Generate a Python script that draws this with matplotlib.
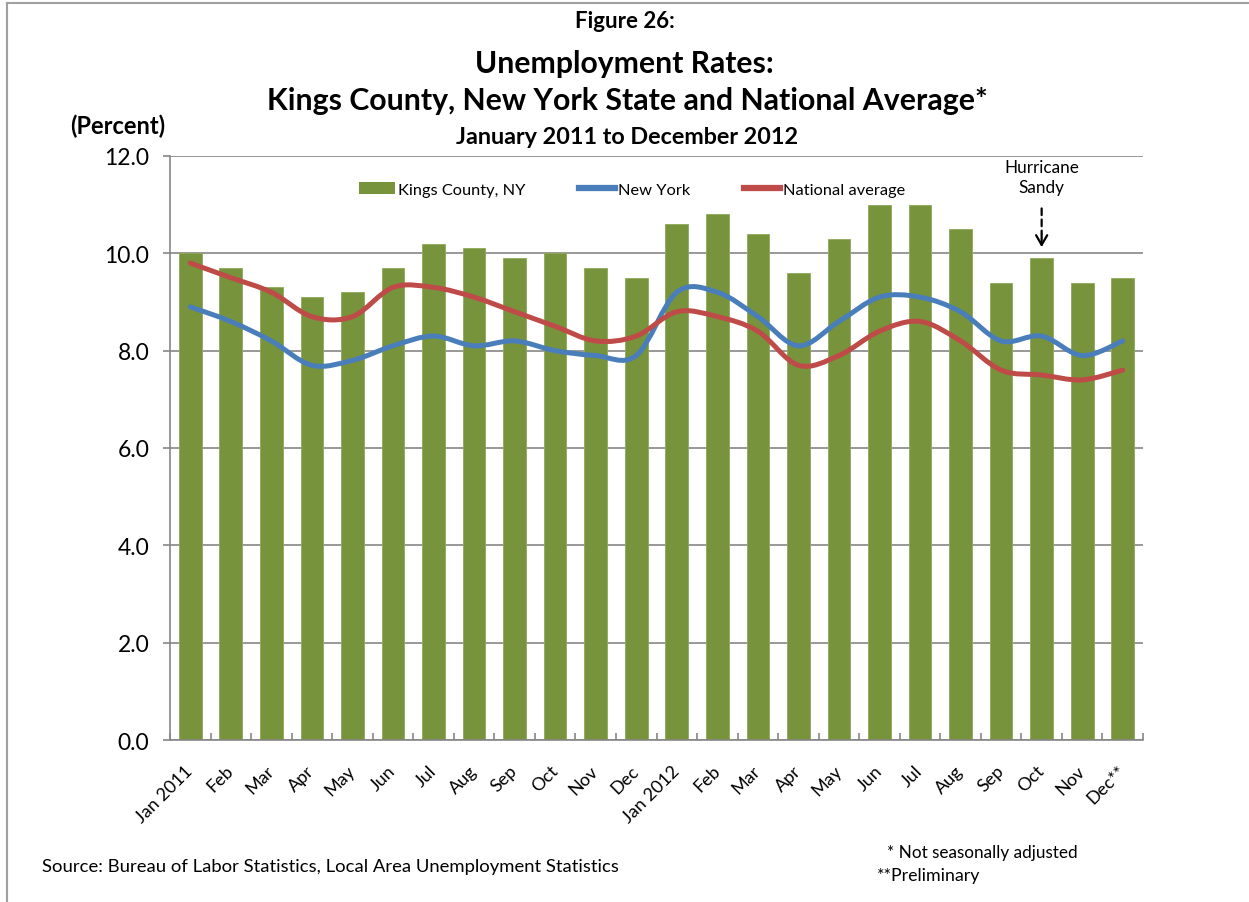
import matplotlib
matplotlib.use("Agg")
from matplotlib import pyplot as plt
from matplotlib.path import Path
from matplotlib.patches import PathPatch, Patch
from matplotlib.lines import Line2D
import numpy as np

plt.rcParams['font.family'] = ['Lato', 'DejaVu Sans']

months = ['Jan 2011', 'Feb', 'Mar', 'Apr', 'May', 'Jun', 'Jul', 'Aug', 'Sep', 'Oct', 'Nov', 'Dec',
          'Jan 2012', 'Feb', 'Mar', 'Apr', 'May', 'Jun', 'Jul', 'Aug', 'Sep', 'Oct', 'Nov', 'Dec**']
kings = [10.0, 9.7, 9.3, 9.1, 9.2, 9.7, 10.2, 10.1, 9.9, 10.0, 9.7, 9.5,
         10.6, 10.8, 10.4, 9.6, 10.3, 11.0, 11.0, 10.5, 9.4, 9.9, 9.4, 9.5]
new_york = [8.9, 8.6, 8.2, 7.7, 7.8, 8.1, 8.3, 8.1, 8.2, 8.0, 7.9, 7.9,
            9.2, 9.2, 8.7, 8.1, 8.6, 9.1, 9.1, 8.8, 8.2, 8.3, 7.9, 8.2]
national = [9.8, 9.5, 9.2, 8.7, 8.7, 9.3, 9.3, 9.1, 8.8, 8.5, 8.2, 8.3,
            8.8, 8.7, 8.4, 7.7, 7.9, 8.4, 8.6, 8.2, 7.6, 7.5, 7.4, 7.6]
sandy_month = 21

GREEN = '#77933C'
BLUE = '#4A7EBB'
RED = '#BE4B48'
GRID = '#868686'


def smooth_path(xs, ys):
    # excel-like smoothed line: catmull-rom converted to cubic bezier
    pts = np.column_stack([xs, ys]).astype(float)
    n = len(pts)
    verts = [pts[0]]
    codes = [Path.MOVETO]
    for i in range(n - 1):
        p0 = pts[i - 1] if i > 0 else pts[i]
        p1 = pts[i]
        p2 = pts[i + 1]
        p3 = pts[i + 2] if i + 2 < n else pts[i + 1]
        verts += [p1 + (p2 - p0) / 6, p2 - (p3 - p1) / 6, p2]
        codes += [Path.CURVE4] * 3
    return Path(verts, codes)


fig = plt.figure(figsize=(12.49, 9.03), dpi=100)
ax = fig.add_axes([170 / 1249, 1 - 741 / 903, 973 / 1249, 584 / 903])

x = np.arange(len(months))
ax.bar(x, kings, width=0.56, color=GREEN, edgecolor='#8DAA58', linewidth=0.6, zorder=2)

for series, col in [(new_york, BLUE), (national, RED)]:
    ax.add_patch(PathPatch(smooth_path(x, series), fill=False, edgecolor=col, lw=3.6,
                           capstyle='round', joinstyle='round', zorder=3))

ax.set_xlim(-0.5, len(months) - 0.5)
ax.set_ylim(0, 12)
ax.set_yticks(np.arange(0, 12.1, 2))
ax.set_yticklabels(['%.1f' % v for v in np.arange(0, 12.1, 2)], fontsize=16.5)
ax.yaxis.grid(True, color=GRID, lw=1.2, zorder=0)
ax.set_axisbelow(True)

ax.set_xticks(x)
ax.set_xticklabels(months, rotation=45, ha='right', va='center', rotation_mode='anchor', fontsize=13)
ax.set_xticks(np.arange(-0.5, len(months), 1), minor=True)
ax.tick_params(axis='x', which='major', length=0, pad=20)
ax.tick_params(axis='x', which='minor', direction='in', length=5, color=GRID, width=1.2)
ax.tick_params(axis='y', direction='out', length=5, color=GRID, width=1.2, pad=10)

for s in ['top', 'right']:
    ax.spines[s].set_visible(False)
for s in ['left', 'bottom']:
    ax.spines[s].set_color(GRID)
    ax.spines[s].set_linewidth(1.2)

handles = [Patch(facecolor=GREEN, edgecolor='none'),
           Line2D([], [], color=BLUE, lw=4.5),
           Line2D([], [], color=RED, lw=4.5)]
ax.legend(handles, ['Kings County, NY', 'New York', 'National average'], loc='center',
          bbox_to_anchor=(0.475, 0.943), ncol=3, frameon=False, fontsize=11.8,
          handlelength=2.2, handleheight=0.8, handletextpad=0.15, columnspacing=3.3)

# hurricane sandy marker
ax.text(sandy_month, 11.57, 'Hurricane\nSandy', ha='center', va='center', fontsize=12.3, linespacing=1.3)
ax.annotate('', xy=(sandy_month, 10.35), xytext=(sandy_month, 10.98),
            arrowprops=dict(arrowstyle='-', ls=(0, (3, 2)), lw=1.6, color='black'))
ax.annotate('', xy=(sandy_month, 10.07), xytext=(sandy_month, 10.45),
            arrowprops=dict(arrowstyle='->,head_length=0.7,head_width=0.4', lw=1.6, color='black'))

fig.text(0.5, 1 - 22 / 903, 'Figure 26:', ha='center', va='center', fontsize=16, fontweight='bold')
fig.text(0.5, 1 - 64 / 903, 'Unemployment Rates:', ha='center', va='center', fontsize=21.7, fontweight='bold')
fig.text(0.502, 1 - 101 / 903, 'Kings County, New York State and National Average*', ha='center', va='center',
         fontsize=21.8, fontweight='bold')
fig.text(0.502, 1 - 137 / 903, 'January 2011 to December 2012', ha='center', va='center', fontsize=16.8,
         fontweight='bold')
fig.text(70 / 1249, 1 - 126 / 903, '(Percent)', ha='left', va='center', fontsize=17, fontweight='bold')

fig.text(42 / 1249, 1 - 867 / 903, 'Source: Bureau of Labor Statistics, Local Area Unemployment Statistics',
         ha='left', va='center', fontsize=13.3)
fig.text(887 / 1249, 1 - 853 / 903, '* Not seasonally adjusted', ha='left', va='center', fontsize=12.3)
fig.text(877 / 1249, 1 - 876 / 903, '**Preliminary', ha='left', va='center', fontsize=12.8)

# outer chart border (top and left only)
fig.add_artist(Line2D([7 / 1249, 7 / 1249], [0, 1 - 4 / 903], transform=fig.transFigure, color='#A0A0A0', lw=1.5))
fig.add_artist(Line2D([7 / 1249, 1], [1 - 4 / 903, 1 - 4 / 903], transform=fig.transFigure, color='#A0A0A0', lw=1.5))

fig.savefig('out.png', dpi=100)
